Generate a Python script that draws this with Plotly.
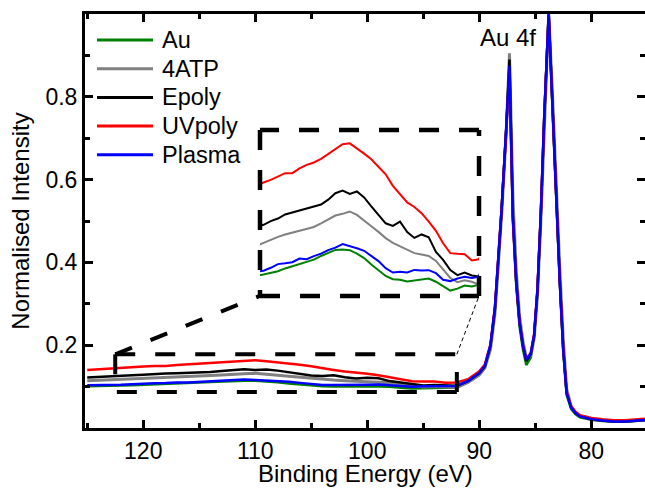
import plotly.graph_objects as go

# ---------------- data ----------------
series_names = ["Au", "4ATP", "Epoly", "UVpoly", "Plasma"]
series_colors = ["#008000", "#808080", "#000000", "#ff0000", "#0000ff"]

binding_energy = [125, 124, 123, 122, 121, 120, 119, 118, 117, 116, 115, 114, 113,
                  112, 111, 110, 109, 108, 107, 106, 105, 104, 103, 102, 101, 100,
                  99, 98, 97, 96, 95, 94, 93, 92,
                  91, 90, 89.5, 89, 88.6, 88.3, 88.0, 87.6, 87.3, 87.0,
                  86.7, 86.4, 86.1, 85.8, 85.4, 85.1, 84.8, 84.5, 84.2, 83.8,
                  83.5, 83.1, 82.8, 82.5, 82.2, 81.8, 81.4, 81.0, 80.0, 79,
                  78, 77, 76, 75]

au = [0.101, 0.101, 0.102, 0.1028, 0.1035, 0.1043, 0.1056, 0.1066, 0.1079, 0.1088, 0.1097,
      0.1114, 0.1127, 0.1142, 0.1144, 0.1141, 0.1125, 0.1104, 0.1074, 0.1046, 0.1021,
      0.1006, 0.1003, 0.0995, 0.1000, 0.1006, 0.1009, 0.0994, 0.0972, 0.0953, 0.0962,
      0.0976, 0.0972, 0.0980,
      0.112, 0.130, 0.147, 0.195, 0.285, 0.395, 0.525, 0.715, 0.870, 0.505,
      0.345, 0.245, 0.190, 0.152, 0.170, 0.220, 0.330, 0.515, 0.745, 1.0,
      0.795, 0.515, 0.345, 0.185, 0.080, 0.046, 0.033, 0.026, 0.020, 0.017,
      0.015, 0.015, 0.017, 0.019]

atp = [0.114, 0.115, 0.116, 0.1175, 0.1190, 0.1203, 0.1214, 0.1223, 0.1231, 0.1238, 0.1249,
       0.1266, 0.1283, 0.1302, 0.1310, 0.1321, 0.1305, 0.1277, 0.1252, 0.1226, 0.1197,
       0.1175, 0.1158, 0.1141, 0.1127, 0.1121, 0.1114, 0.1091, 0.1049, 0.1012, 0.0992,
       0.1001, 0.0994, 0.0981,
       0.110, 0.128, 0.145, 0.190, 0.275, 0.385, 0.515, 0.710, 0.905, 0.560,
       0.380, 0.270, 0.210, 0.170, 0.175, 0.215, 0.320, 0.500, 0.730, 1.0,
       0.830, 0.560, 0.380, 0.215, 0.095, 0.052, 0.037, 0.029, 0.021, 0.018,
       0.016, 0.016, 0.018, 0.020]

epoly = [0.122, 0.123, 0.125, 0.1259, 0.1276, 0.1288, 0.1307, 0.1316, 0.1324, 0.1332, 0.1342,
         0.1353, 0.1376, 0.1406, 0.1418, 0.1403, 0.1414, 0.1386, 0.1345, 0.1308, 0.1266,
         0.1254, 0.1274, 0.1225, 0.1198, 0.1214, 0.1201, 0.1133, 0.1096, 0.1048, 0.1025,
         0.1037, 0.1023, 0.1018,
         0.113, 0.132, 0.149, 0.198, 0.288, 0.398, 0.528, 0.718, 0.890, 0.515,
         0.355, 0.255, 0.198, 0.162, 0.178, 0.223, 0.333, 0.518, 0.748, 1.0,
         0.800, 0.520, 0.350, 0.190, 0.085, 0.050, 0.036, 0.028, 0.021, 0.018,
         0.016, 0.016, 0.018, 0.020]

uvpoly = [0.140, 0.142, 0.144, 0.1456, 0.1468, 0.1483, 0.1499, 0.1499, 0.1521, 0.1538, 0.1549,
          0.1566, 0.1589, 0.1615, 0.1634, 0.1638, 0.1615, 0.1590, 0.1564, 0.1530, 0.1494,
          0.1440, 0.1403, 0.1363, 0.1342, 0.1313, 0.1274, 0.1231, 0.1173, 0.1127, 0.1124,
          0.1122, 0.1093, 0.1099,
          0.118, 0.137, 0.153, 0.202, 0.292, 0.402, 0.530, 0.715, 0.860, 0.505,
          0.352, 0.255, 0.200, 0.166, 0.181, 0.226, 0.336, 0.520, 0.750, 1.0,
          0.800, 0.522, 0.352, 0.193, 0.088, 0.053, 0.039, 0.031, 0.024, 0.021,
          0.019, 0.019, 0.021, 0.023]

plasma = [0.103, 0.103, 0.104, 0.1045, 0.1059, 0.1076, 0.1080, 0.1085, 0.1102, 0.1099, 0.1113,
          0.1125, 0.1141, 0.1153, 0.1169, 0.1161, 0.1150, 0.1138, 0.1116, 0.1090, 0.1057,
          0.1037, 0.1040, 0.1037, 0.1049, 0.1046, 0.1048, 0.1034, 0.1003, 0.0997, 0.1009,
          0.1017, 0.1011, 0.1017,
          0.114, 0.133, 0.150, 0.200, 0.290, 0.400, 0.530, 0.720, 0.875, 0.510,
          0.355, 0.255, 0.200, 0.165, 0.180, 0.225, 0.335, 0.520, 0.750, 1.0,
          0.800, 0.520, 0.350, 0.190, 0.085, 0.050, 0.036, 0.028, 0.021, 0.018,
          0.016, 0.016, 0.018, 0.020]

series_values = [au, atp, epoly, uvpoly, plasma]

x_tick_vals = [120, 110, 100, 90, 80]
y_tick_vals = [0.2, 0.4, 0.6, 0.8]
y_tick_text = ["0.2", "0.4", "0.6", "0.8"]
y_minor_vals = [0.1, 0.3, 0.5, 0.7, 0.9]

x_title = "Binding Energy (eV)"
y_title = "Normalised Intensity"
peak_label = "Au 4f"

# ---------------- layout constants ----------------
FIG_W, FIG_H = 645, 492
M_L, M_R, M_T, M_B = 85, 0, 14, 64
PLOT_H = FIG_H - M_T - M_B
PLOT_W = FIG_W - M_L - M_R

X_RANGE = [125.2, 75.2]
Y_RANGE = [0.0, 1.0]
ZOOM_X = [122.5, 92.0]          # region magnified in the inset
ZOOM_Y = [0.087, 0.178]         # small dashed box on main plot
INSET_Y_RANGE = [0.0928, 0.170]
INSET_DOM_X = [0.3125, 0.7036]
INSET_DOM_Y = [0.319, 0.7198]
FONT = "Liberation Sans, Arial, sans-serif"

LEG_TOP_PX = 26
LEG_STEP_PX = 28.7
LEG_LINE_X_PX = [12, 68]
LEG_TEXT_X_PX = 75
XTITLE_PX_BELOW = 45

BOX_DASH = "20px,20px"

fig = go.Figure()

for name, col, vals in zip(series_names, series_colors, series_values):
    fig.add_trace(go.Scatter(x=binding_energy, y=vals, mode="lines", name=name,
                             line=dict(color=col, width=3 if name == "4ATP" else 2.5),
                             showlegend=False, xaxis="x", yaxis="y"))
for name, col, vals in zip(series_names, series_colors, series_values):
    fig.add_trace(go.Scatter(x=binding_energy, y=vals, mode="lines", name=name,
                             line=dict(color=col, width=2), showlegend=False,
                             hoverinfo="skip", xaxis="x2", yaxis="y2"))
# anchor trace for the right-hand tick axis
fig.add_trace(go.Scatter(x=[binding_energy[0]], y=[au[0]], mode="lines", showlegend=False,
                         hoverinfo="skip", line=dict(width=0), xaxis="x", yaxis="y3"))


def main_x(frac):
    return X_RANGE[0] + frac * (X_RANGE[1] - X_RANGE[0])


def main_y(frac):
    return Y_RANGE[0] + frac * (Y_RANGE[1] - Y_RANGE[0])


def seg(xref, yref, p0, p1, width, dash=BOX_DASH):
    return dict(type="line", xref=xref, yref=yref, x0=p0[0], y0=p0[1],
                x1=p1[0], y1=p1[1], line=dict(color="black", width=width, dash=dash))


zx0, zx1 = ZOOM_X
zy0, zy1 = ZOOM_Y
shapes = [
    # small box on the main axes: each side dashed from its own start point
    seg("x", "y", (zx0, zy1), (zx1, zy1), 4),      # top, left -> right
    seg("x", "y", (zx0, zy1), (zx0, zy0), 4),      # left, top -> bottom
    seg("x", "y", (zx1, zy0), (zx1, zy1), 4),      # right, bottom -> top
    seg("x", "y", (zx1, zy0), (zx0, zy0), 4),      # bottom, right -> left
    # inset frame
    seg("x2 domain", "y2 domain", (1, 1), (0, 1), 4.5),   # top
    seg("x2 domain", "y2 domain", (0, 1), (0, 0), 4.5),   # left
    seg("x2 domain", "y2 domain", (1, 0), (1, 1), 4.5),   # right
    seg("x2 domain", "y2 domain", (0, 0), (1, 0), 4.5),   # bottom
    # connectors
    seg("x", "y", (zx0, zy1), (main_x(INSET_DOM_X[0]), main_y(INSET_DOM_Y[0])), 4,
        "18px,20px"),
    seg("x", "y", (zx1, zy1), (main_x(INSET_DOM_X[1]), main_y(INSET_DOM_Y[0])), 1,
        "4px,3px"),
]

annotations = [
    dict(text=peak_label, x=87.4, y=0.944, xref="x", yref="y",
         showarrow=False, font=dict(family=FONT, size=24, color="black")),
    dict(text=x_title, x=0.5, y=-XTITLE_PX_BELOW / PLOT_H, xref="paper", yref="paper",
         xanchor="center", yanchor="middle", showarrow=False,
         font=dict(family=FONT, size=24, color="black")),
]

for i, (name, col) in enumerate(zip(series_names, series_colors)):
    yp = 1 - (LEG_TOP_PX + i * LEG_STEP_PX) / PLOT_H
    shapes.append(dict(type="line", xref="paper", yref="paper",
                       x0=LEG_LINE_X_PX[0] / PLOT_W, x1=LEG_LINE_X_PX[1] / PLOT_W,
                       y0=yp, y1=yp, line=dict(color=col, width=3)))
    annotations.append(dict(text=name, xref="paper", yref="paper",
                            x=LEG_TEXT_X_PX / PLOT_W, y=yp, xanchor="left",
                            yanchor="middle", showarrow=False,
                            font=dict(family=FONT, size=23.5, color="black")))

axis_font = dict(family=FONT, size=23, color="black")

fig.update_layout(
    width=FIG_W, height=FIG_H,
    margin=dict(l=M_L, r=M_R, t=M_T, b=M_B, autoexpand=False),
    paper_bgcolor="white", plot_bgcolor="white",
    font=dict(family=FONT, size=23, color="black"),
    showlegend=False,
    xaxis=dict(range=X_RANGE, domain=[0, 1], anchor="y",
               tickvals=x_tick_vals, ticks="inside", ticklen=8, tickwidth=3,
               tickcolor="black", showline=True, linewidth=3, linecolor="black",
               mirror="ticks", showgrid=False, zeroline=False, tickfont=axis_font,
               minor=dict(dtick=5, tick0=0, ticks="inside", ticklen=5, tickwidth=3,
                          tickcolor="black", showgrid=False)),
    yaxis=dict(range=Y_RANGE, domain=[0, 1], anchor="x",
               tickvals=y_tick_vals, ticktext=y_tick_text, ticks="inside", ticklen=8,
               tickwidth=3, tickcolor="black", showline=True, linewidth=3,
               linecolor="black", mirror=False, showgrid=False, zeroline=False,
               tickfont=axis_font,
               minor=dict(tickvals=y_minor_vals, ticks="inside", ticklen=5, tickwidth=3,
                          tickcolor="black", showgrid=False),
               title=dict(text=y_title, font=dict(family=FONT, size=24),
                          standoff=10)),
    yaxis3=dict(range=Y_RANGE, overlaying="y", side="right", anchor="x",
                tickvals=y_tick_vals, ticks="inside", ticklen=8, tickwidth=3,
                tickcolor="black", showline=False, showgrid=False, zeroline=False,
                showticklabels=False,
                minor=dict(tickvals=y_minor_vals, ticks="inside", ticklen=5,
                           tickwidth=3, tickcolor="black", showgrid=False)),
    xaxis2=dict(range=list(ZOOM_X), domain=INSET_DOM_X, anchor="y2", visible=False),
    yaxis2=dict(range=INSET_Y_RANGE, domain=INSET_DOM_Y, anchor="x2", visible=False),
    shapes=shapes,
    annotations=annotations,
)

# remove the browser's default 8px body margin so the figure sits at the page origin
fig.write_html("out.html",
               config={"displayModeBar": False},
               post_script="document.body.style.margin='0px';"
                           "document.body.style.overflow='hidden';")
